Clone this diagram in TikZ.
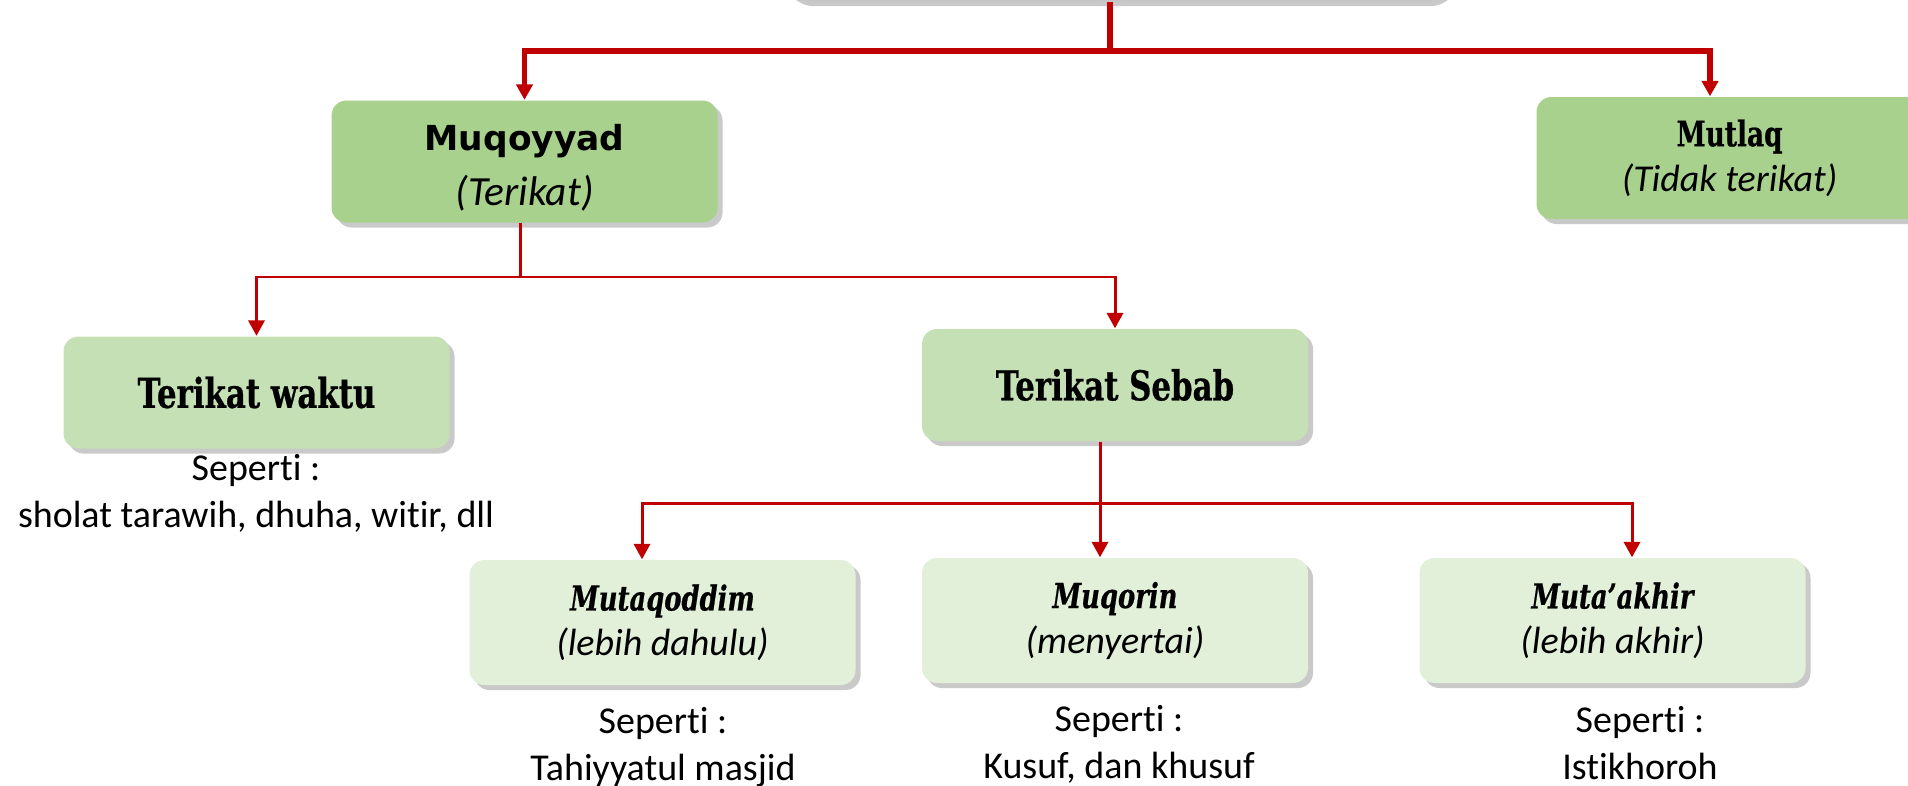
\documentclass[tikz,border=0pt]{standalone}
\usepackage{fontspec}
\setmainfont{Carlito}[Ligatures=NoCommon]
\newfontfamily\slabfont[FakeStretch=0.75,FakeBold=0.6]{DejaVu Serif}
\newfontfamily\boldsans{DejaVu Sans}
\usetikzlibrary{arrows.meta,shadows}
\definecolor{linkred}{HTML}{C00000}
\definecolor{greenA}{HTML}{A9D18E}
\definecolor{greenB}{HTML}{C5E0B4}
\definecolor{greenC}{HTML}{E2F0D9}

\begin{document}
\begin{tikzpicture}[
    box/.style={rectangle, rounded corners=0.15cm, inner sep=0pt, align=center, minimum width=3.86cm,
      font=\fontsize{10.8}{12.8}\selectfont,
      drop shadow={shadow xshift=0.05cm, shadow yshift=-0.05cm, opacity=0.3, fill=black!70}},
    lvlone/.style={box, fill=greenA, minimum height=1.22cm},
    lvltwo/.style={box, fill=greenB, minimum height=1.12cm},
    lvlthree/.style={box, fill=greenC, minimum height=1.25cm},
    note/.style={align=center, font=\fontsize{10.8}{13.4}\selectfont},
    bigline/.style={draw=linkred, line width=1.6pt},
    smallline/.style={draw=linkred, line width=0.85pt},
    tipA/.style={-{Triangle[width=4.6pt,length=4.4pt]}},
  ]
    \useasboundingbox (0,0) rectangle (19.08,-7.85);

    % Nodes
    \node (top) at (11.18,-0.02) [anchor=south, rectangle, rounded corners=0.3cm, minimum width=6.75cm,
      minimum height=1cm, fill=white, draw=gray!45, line width=1pt,
      drop shadow={shadow xshift=0.04cm, shadow yshift=-0.06cm, opacity=0.3, fill=black!70}] {};
    \node (muqoyyad) at (5.245,-1.615) [lvlone, font=\fontsize{11.8}{15.4}\selectfont] {{\boldsans\bfseries\fontsize{9.8}{15.4}\selectfont\rule{0pt}{11pt}Muqoyyad}\\\itshape (Terikat)};
    \node (mutlaq) at (17.295,-1.58) [lvlone] {{\slabfont\bfseries\fontsize{10}{12.8}\selectfont Mutlaq}\\\itshape (Tidak terikat)};
    \node (waktu) at (2.565,-3.925) [lvltwo] {\slabfont\bfseries\fontsize{11.7}{13}\selectfont Terikat waktu};
    \node (sebab) at (11.15,-3.85) [lvltwo] {\slabfont\bfseries\fontsize{11.7}{13}\selectfont Terikat Sebab};
    \node (mutaqoddim) at (6.625,-6.225) [lvlthree] {{\slabfont\bfseries\itshape\fontsize{9.8}{12.8}\selectfont Mutaqoddim}\\\itshape (lebih dahulu)};
    \node (muqorin) at (11.15,-6.205) [lvlthree] {{\slabfont\bfseries\itshape\fontsize{9.8}{12.8}\selectfont Muqorin}\\\itshape (menyertai)};
    \node (takhir) at (16.125,-6.205) [lvlthree] {{\slabfont\bfseries\itshape\fontsize{9.8}{12.8}\selectfont Muta’akhir}\\\itshape (lebih akhir)};

    \node (ex1) at (2.56,-4.93) [note] {Seperti :\\sholat tarawih, dhuha, witir, dll};
    \node (ex2) at (6.63,-7.47) [note] {Seperti :\\Tahiyyatul masjid};
    \node (ex3) at (11.19,-7.44) [note] {Seperti :\\Kusuf, dan khusuf};
    \node (ex4) at (16.40,-7.43) [note] {Seperti :\\Istikhoroh};

    % Connectors
    \coordinate (j1) at (11.1,-0.51);
    \coordinate (j2) at (5.20,-2.77);
    \coordinate (j3) at (11.0,-5.03);
    \draw [bigline] (top.south -| j1) -- (j1);
    \draw [bigline, tipA] (j1) -| (muqoyyad.north);
    \draw [bigline, tipA] (j1) -| ([xshift=-0.195cm]mutlaq.north);
    \draw [smallline] (muqoyyad.south -| j2) -- (j2);
    \draw [smallline, tipA] (j2) -| (waktu.north);
    \draw [smallline, tipA] (j2) -| (sebab.north);
    \draw [smallline] (sebab.south -| j3) -- (j3);
    \draw [smallline, tipA] (j3) -| ([xshift=-0.205cm]mutaqoddim.north);
    \draw [smallline, tipA] (j3) -- (j3 |- muqorin.north);
    \draw [smallline, tipA] (j3) -| ([xshift=0.195cm]takhir.north);
\end{tikzpicture}
\end{document}
